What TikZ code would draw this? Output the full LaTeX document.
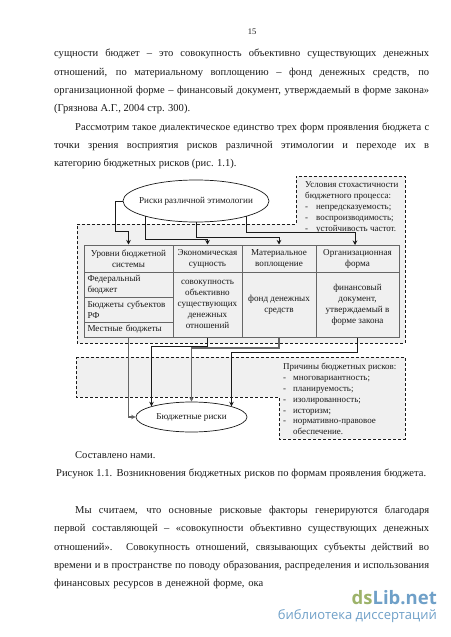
\documentclass[tikz,border=0pt]{standalone}
\usepackage{fontspec}
\setmainfont{Liberation Serif}
\newfontfamily\wmfont{Open Sans}
\usetikzlibrary{arrows.meta,shapes.geometric}
\definecolor{boxfill}{HTML}{F0F0F0}
\definecolor{linegray}{HTML}{666666}
\definecolor{inkdark}{HTML}{1A1A1A}
\definecolor{wmgreen}{HTML}{9DB36A}
\definecolor{wmblue}{HTML}{6FA0C8}
\tikzset{
  bodyline/.style={anchor=west,inner sep=0pt,text height=7pt,text depth=2pt,font=\fontsize{10.55}{12}\selectfont,text=inkdark},
  dashbox/.style={draw=inkdark,densely dashed,line width=.9pt,fill=boxfill},
  cell/.style={draw=linegray,line width=1pt,fill=boxfill,inner sep=0pt,align=center,font=\fontsize{9.1}{11}\selectfont,text=inkdark},
  leftcell/.style={cell,align=left,text width=82pt},
  risk/.style={draw=inkdark,line width=.7pt,fill=white,ellipse,inner xsep=-20pt,inner ysep=-5pt,font=\fontsize{9.1}{10}\selectfont,text=inkdark},
  note/.style={anchor=west,inner sep=0pt,text height=6pt,text depth=2pt,font=\fontsize{8.95}{10}\selectfont,text=inkdark},
  conn/.style={draw=inkdark,line width=1pt,-{Stealth[length=4.5pt,width=4.5pt]}},
  conng/.style={draw=linegray,line width=1.3pt,-{Stealth[length=4.5pt,width=4.5pt]}},
}
\newcommand{\jline}[4]{\node[bodyline] (#1) at (#2,#3) {#4};}
\newcommand{\sline}[5]{\node[bodyline] (#1) at (#2,#3) {\makebox[#4pt][s]{#5}};}
\begin{document}
\begin{tikzpicture}[x=1pt,y=-1pt]
\useasboundingbox[fill=white] (0,0) rectangle (450,637);
% page text
\node[bodyline,anchor=center,font=\fontsize{8.5}{10}\selectfont] (pg) at (252,32) {15};
\sline{t1}{54}{54.3}{375}{сущности бюджет – это совокупность объективно существующих денежных}
\sline{t2}{54}{72.7}{375}{отношений, по материальному воплощению – фонд денежных средств, по}
\sline{t3}{54}{91}{375}{организационной форме – финансовый документ, утверждаемый в форме закона»}
\jline{t4}{54}{109.3}{(Грязнова А.Г., 2004 стр. 300).}
\sline{t5}{75}{127.7}{354}{Рассмотрим такое диалектическое единство трех форм проявления бюджета с}
\sline{t6}{54}{146}{375}{точки зрения восприятия рисков различной этимологии и переходе их в}
\jline{t7}{54}{164.3}{категорию бюджетных рисков (рис. 1.1).}
\jline{t8}{75}{456}{Составлено нами.}
\sline{t9}{56}{474}{370}{Рисунок 1.1. Возникновения бюджетных рисков по формам проявления бюджета.}
\sline{t10}{75}{511}{354}{Мы считаем, что основные рисковые факторы генерируются благодаря}
\sline{t11}{54}{529}{375}{первой составляющей – «совокупности объективно существующих денежных}
\sline{t12}{54}{547.5}{375}{отношений». Совокупность отношений, связывающих субъекты действий во}
\sline{t13}{54}{566}{375}{времени и в пространстве по поводу образования, распределения и использования}
\sline{t14}{54}{584}{209}{финансовых ресурсов в денежной форме, ока}
% dashed regions
\path[dashbox] (77,224) -- (296,224) -- (296,176) -- (405,176) -- (405,343) -- (77,343) -- cycle;
\path[dashbox] (76,357) -- (405,357) -- (405,439) -- (279,439) -- (279,397) -- (76,397) -- cycle;
% notes
\node[note] (n1) at (305,185) {Условия стохастичности};
\node[note] (n2) at (305,196) {бюджетного процесса:};
\node[note] (n3a) at (305,207.5) {-};\node[note] (n3) at (316,207.5) {непредсказуемость;};
\node[note] (n4a) at (305,218) {-};\node[note] (n4) at (316,218) {воспроизводимость;};
\node[note] (n5a) at (305,229) {-};\node[note] (n5) at (316,229) {устойчивость частот.};
\node[note] (m1) at (283,367.3) {Причины бюджетных рисков:};
\node[note] (m2a) at (283,378.3) {-};\node[note] (m2) at (293,378.3) {многовариантность;};
\node[note] (m3a) at (283,389) {-};\node[note] (m3) at (293,389) {планируемость;};
\node[note] (m4a) at (283,400.3) {-};\node[note] (m4) at (293,400.3) {изолированность;};
\node[note] (m5a) at (283,411) {-};\node[note] (m5) at (293,411) {историзм;};
\node[note] (m6a) at (283,421.7) {-};\node[note] (m6) at (293,421.7) {нормативно-правовое};
\node[note] (m7) at (293,432.7) {обеспечение.};
% table
\node[cell,minimum width=89pt,minimum height=27pt] (c1) at (128.5,258.5) {Уровни бюджетной\\системы};
\node[cell,minimum width=69pt,minimum height=27pt] (c2) at (207.5,258.5) {Экономическая\\сущность};
\node[cell,minimum width=74pt,minimum height=27pt] (c3) at (279,258.5) {Материальное\\воплощение};
\node[cell,minimum width=83pt,minimum height=27pt] (c4) at (357.5,258.5) {Организационная\\форма};
\node[leftcell,minimum width=89pt,minimum height=25pt] (r1) at (128.5,284.5) {Федеральный\\бюджет};
\node[leftcell,minimum width=89pt,minimum height=25pt] (r2) at (128.5,309.5) {Бюджеты субъектов\\РФ};
\node[leftcell,minimum width=89pt,minimum height=15pt] (r3) at (128.5,329.5) {Местные бюджеты};
\node[cell,minimum width=69pt,minimum height=65pt] (b2) at (207.5,304.5) {совокупность\\объективно\\существующих\\денежных\\отношений};
\node[cell,minimum width=74pt,minimum height=65pt] (b3) at (279,304.5) {фонд денежных\\средств};
\node[cell,minimum width=83pt,minimum height=65pt] (b4) at (357.5,304.5) {финансовый\\документ,\\утверждаемый в\\форме закона};
% ellipses
\node[risk,minimum width=146pt,minimum height=42pt] (top) at (196,201) {Риски различной этимологии};
\node[risk,minimum width=111pt,minimum height=30pt] (bud) at (191.5,417) {Бюджетные риски};
% connectors
\draw[conn] (top.west) -- (115,201) -- (115,231) -- (c1.north |- 0,231) -- (c1.north);
\draw[conn] (top.197) |- (c2.north |- 0,239) -- (c2.north);
\draw[conn] (top.south) |- (c3.north |- 0,237) -- (c3.north);
\draw[conn] (top.343) |- (355,232) -- (355,245);
\draw[conng] (r3.south) |- (bud.west);
\draw[conn] (b2.south) |- (bud.165 |- 0,346) -- (bud.165);
\draw[conng] (b3.south) |- (bud.north |- 0,348) -- (bud.north);
\draw[conn] (b4.south) |- (bud.15 |- 0,352) -- (bud.15);
% watermark
\node[anchor=east,inner sep=0pt,font=\wmfont\bfseries\fontsize{18.5}{20}\selectfont] (wm1) at (437,598) {\textcolor{wmgreen}{ds}\textcolor{wmblue}{Lib.net}};
\node[anchor=east,inner sep=0pt,text=wmblue,font=\wmfont\fontsize{13}{14}\selectfont] (wm2) at (437,616) {библиотека диссертаций};
\end{tikzpicture}
\end{document}
